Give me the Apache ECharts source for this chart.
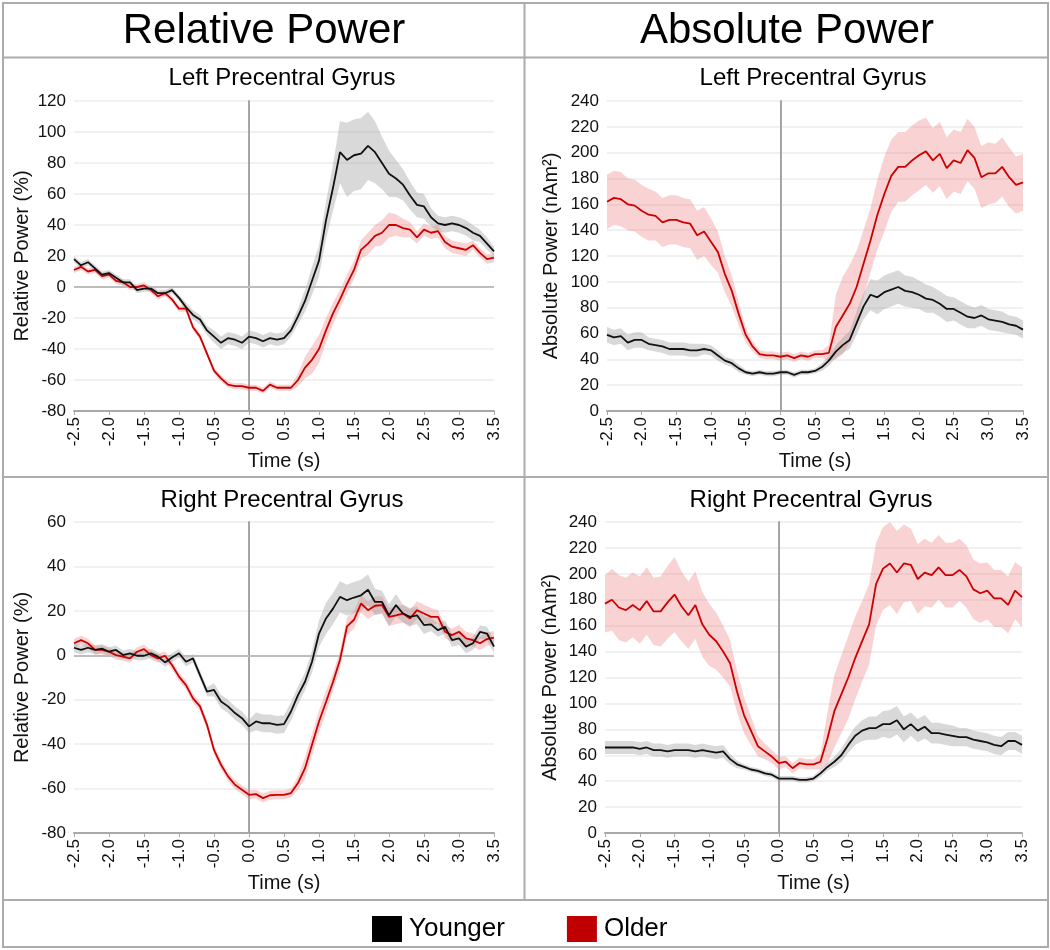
<!DOCTYPE html>
<html><head><meta charset="utf-8">
<script src="https://cdn.jsdelivr.net/npm/echarts@6/dist/echarts.min.js"></script>
<style>html,body{margin:0;padding:0;background:#fff}#c{width:1050px;height:950px}</style>
</head><body><div id="c"></div>
<script>
const time = [-2.5,-2.4,-2.3,-2.2,-2.1,-2.0,-1.9,-1.8,-1.7,-1.6,-1.5,-1.4,-1.3,-1.2,-1.1,-1.0,-0.9,-0.8,-0.7,-0.6,-0.5,-0.4,-0.3,-0.2,-0.1,0.0,0.1,0.2,0.3,0.4,0.5,0.6,0.7,0.8,0.9,1.0,1.1,1.2,1.3,1.4,1.5,1.6,1.7,1.8,1.9,2.0,2.1,2.2,2.3,2.4,2.5,2.6,2.7,2.8,2.9,3.0,3.1,3.2,3.3,3.4,3.5];

// Relative power, left precentral gyrus
const relYoungL = [18,14,16,12,8, 9,6,3,3,-2, -1,-1,-4,-4,-2, -7,-13,-18,-21,-28, -32,-36,-33,-34,-36, -32,-33,-35,-33,-34, -33,-28,-19,-9,4, 17,43,64,87,82, 85,86,91,87,80, 73,70,66,59,53, 52,45,41,40,41, 40,38,35,33,28, 23];
const relYoungLErr = [2,2,2,2,2, 2,2,2,2,2, 2,2,2,2,2, 2,3,3,3,3, 4,4,4,4,4, 4,4,4,4,4, 4,4,5,7,9, 10,12,15,20,24, 23,23,22,20,17, 15,12,10,9,8, 8,6,5,5,5, 5,5,5,4,4, 3];
const relOldL = [11,13,10,11,7, 8,4,3,0,0, 1,-2,-6,-4,-8, -14,-14,-26,-32,-43, -54,-59,-63,-64,-64, -65,-65,-67,-63,-65, -65,-65,-60,-52,-47, -40,-28,-17,-8,2, 11,24,28,33,35, 40,40,38,37,32, 37,35,36,29,26, 25,24,27,22,18, 19];
const relOldLErr = [2,2,2,2,2, 2,2,2,2,2, 2,2,2,2,2, 2,2,2,2,2, 2,2,2,2,2, 2,2,2,2,2, 2,2,4,7,9, 9,8,7,6,6, 6,6,7,7,8, 8,7,6,5,4, 4,4,4,4,4, 4,4,3,3,3, 3];

// Absolute power, left precentral gyrus
const absYoungL = [59,57,58,53,55, 55,52,51,50,48, 48,48,47,47,48, 47,43,39,37,33, 30,29,30,29,29, 30,30,28,30,30, 31,34,39,46,51, 55,68,81,90,88, 92,94,96,93,92, 90,87,86,83,79, 79,76,73,72,74, 71,70,69,67,66, 63];
const absYoungLErr = [6,6,6,6,6, 6,5,5,5,5, 5,5,5,5,4, 4,4,3,3,3, 2,2,2,2,2, 2,2,2,2,2, 2,3,4,5,6, 7,9,10,12,13, 13,13,13,12,12, 11,11,10,10,10, 9,9,9,8,8, 8,8,8,7,7, 7];
const absOldL = [162,165,164,160,159, 155,152,151,146,148, 148,146,145,136,139, 131,123,106,93,75, 59,50,44,43,43, 42,43,41,43,42, 44,44,45,65,74, 83,96,114,132,152, 168,182,189,189,194, 198,201,194,199,188, 194,192,202,196,181, 184,184,189,181,175, 177];
const absOldLErr = [21,21,21,20,20, 20,20,19,19,19, 19,19,19,19,19, 18,16,14,12,9, 6,4,3,3,3, 3,3,3,3,3, 3,3,6,25,30, 30,28,26,25,27, 29,28,27,27,27, 27,26,25,25,24, 24,24,24,24,24, 24,23,23,23,22, 22];

// Relative power, right precentral gyrus
const relYoungR = [3.4,2.4,3.4,2.4,3, 1.6,2.4,0.1,0.9,-0.2, -0.2,0.9,-0.6,-3.2,-1, 0.9,-2.9,-1.4,-8.9,-16.4, -15.6,-20.8,-23,-26,-28.3, -32,-29.8,-30.6,-30.6,-31.3, -31,-25.3,-17.9,-11.9,-2.9, 9.8,16.6,21,26.3,24.8, 26,27,29.5,24,24, 18,22.6,18.8,17.3,18, 13.6,13.9,11.3,12.8,6.8, 7.6,3.9,5.4,10.5,9.8, 3.9];
const relYoungRErr = [2,2,2,2,2, 2,2,2,2,2, 2,2,2,2,2, 2,2,2,2,2, 3,3,3,3,3, 3,4,4,4,4, 4,4,4,4,5, 6,7,7,7,7, 7,7,7,6,5, 5,5,4,4,4, 4,3,3,3,3, 3,3,3,3,3, 3];
const relOldR = [5.4,6.8,5.4,2.4,2.4, 1.6,0.1,-0.6,-1.4,1.6, 2.8,0.1,-1.4,-0.2,-4.4, -9.6,-13.4,-19.4,-23,-31.3, -42.6,-49.3,-54.5,-58.3,-60.5, -62.8,-62.5,-64.3,-63,-62.8, -62.8,-62,-57.5,-50.8,-40.3, -29.8,-21,-12,-2,13, 16,23.3,20.3,22.3,22.6, 17.3,18,18.8,16.6,20.3, 18.8,17.3,17.3,10.6,9.1, 10.6,7.6,6.8,5.4,7.3, 7.9];
const relOldRErr = [2,2,2,2,2, 2,2,2,2,2, 2,2,2,2,2, 2,2,2,2,2, 2,2,2,2,2, 2,2,2,2,2, 2,2,3,5,5, 5,5,4,4,4, 4,4,4,4,4, 4,4,4,4,4, 4,4,3,3,3, 3,3,3,3,3, 3];

// Absolute power, right precentral gyrus
const absYoungR = [66,66,66,66,66, 65,66,64,64,63, 64,64,64,63,64, 63,62,63,57,53, 51,49,48,46,45, 42,42,42,41,41, 42,46,51,55,60, 68,75,79,81,81, 84,84,87,80,84, 79,82,77,77,76, 75,74,74,72,71, 70,68,67,71,71, 68];
const absYoungRErr = [5,5,5,5,5, 5,5,5,5,5, 5,5,5,5,5, 5,5,5,4,3, 2,2,2,2,2, 2,2,2,2,2, 2,3,3,4,5, 6,7,8,9,9, 10,11,11,10,9, 9,9,8,8,8, 8,7,7,7,7, 7,7,7,7,7, 7];
const absOldR = [177,180,174,172,176, 172,179,171,171,178, 184,175,168,176,161, 153,148,140,131,109, 91,79,67,63,59, 54,55,50,54,53, 53,55,73,94,107, 120,135,148,161,192, 204,208,201,208,207, 196,201,199,205,199, 199,203,198,188,185, 187,181,181,176,187, 182];
const absOldRErr = [22,24,25,25,25, 26,26,26,27,28, 29,27,26,26,25, 24,22,20,18,16, 14,11,8,6,5, 5,4,4,4,4, 4,6,20,28,30, 32,32,31,31,32, 32,32,32,30,28, 27,26,25,25,25, 25,24,24,23,23, 22,22,22,22,22, 23];

const columnTitles = ['Relative Power', 'Absolute Power'];
const panelTitles = ['Left Precentral Gyrus', 'Left Precentral Gyrus', 'Right Precentral Gyrus', 'Right Precentral Gyrus'];
const groupNames = ['Younger', 'Older'];
const xTitle = 'Time (s)';

const FONT = '"Liberation Sans", Arial, sans-serif';
const BLACK = '#111111', RED = '#cc0000';

const panels = [
  {grid:{left:74, top:101, width:420, height:310}, yMin:-80, yMax:120, yName:'Relative Power (%)', nameGap:42, zero:true,
   young:relYoungL, youngErr:relYoungLErr, old:relOldL, oldErr:relOldLErr},
  {grid:{left:607, top:101, width:416, height:310}, yMin:0, yMax:240, yName:'Absolute Power (nAm²)', nameGap:46, zero:false,
   young:absYoungL, youngErr:absYoungLErr, old:absOldL, oldErr:absOldLErr},
  {grid:{left:74, top:522, width:420, height:311}, yMin:-80, yMax:60, yName:'Relative Power (%)', nameGap:42, zero:true,
   young:relYoungR, youngErr:relYoungRErr, old:relOldR, oldErr:relOldRErr},
  {grid:{left:605, top:522, width:417, height:311}, yMin:0, yMax:240, yName:'Absolute Power (nAm²)', nameGap:45, zero:false,
   young:absYoungR, youngErr:absYoungRErr, old:absOldR, oldErr:absOldRErr}
];

const pairs = (vals) => time.map((t, i) => [t, vals[i]]);

function bandSeries(k, mean, err, fill, z, markLine) {
  const s = {
    type:'custom', xAxisIndex:k, yAxisIndex:k, silent:true, z:z,
    data: time.map((t, i) => [t, mean[i] - err[i], mean[i] + err[i]]),
    encode:{x:0, y:[1, 2]},
    renderItem:(params, api) => {
      if (params.dataIndexInside !== 0) return null;
      const n = params.dataInsideLength;
      const top = [], bot = [];
      for (let j = 0; j < n; j++) {
        const t = api.value(0, j);
        top.push(api.coord([t, api.value(2, j)]));
        bot.push(api.coord([t, api.value(1, j)]));
      }
      return {type:'polygon', shape:{points: top.concat(bot.reverse())}, style:{fill:fill}};
    }
  };
  if (markLine) s.markLine = markLine;
  return s;
}

const grids = [], xAxes = [], yAxes = [], series = [];
panels.forEach((p, k) => {
  grids.push(p.grid);
  xAxes.push({
    type:'value', gridIndex:k, min:-2.5, max:3.5, interval:0.5,
    name:xTitle, nameLocation:'middle', nameGap:40,
    nameTextStyle:{fontFamily:FONT, fontSize:20, color:'#111'},
    axisLine:{show:true, onZero:false, lineStyle:{color:'#a8a8a8', width:2}},
    axisTick:{show:true, length:4, lineStyle:{color:'#a8a8a8'}},
    splitLine:{show:false},
    axisLabel:{rotate:90, margin:6, fontFamily:FONT, fontSize:17, color:'#111', formatter:v => v.toFixed(1)}
  });
  yAxes.push({
    type:'value', gridIndex:k, min:p.yMin, max:p.yMax, interval:20,
    name:p.yName, nameLocation:'middle', nameGap:p.nameGap,
    nameTextStyle:{fontFamily:FONT, fontSize:20, color:'#111'},
    axisLine:{show:true, lineStyle:{color:'#a8a8a8', width:2}},
    axisTick:{show:false},
    splitLine:{show:true, lineStyle:{color:'#ececec', width:1.5}},
    axisLabel:{margin:8, fontFamily:FONT, fontSize:17, color:'#111'}
  });
  const vLine = {silent:true, symbol:'none', label:{show:false},
                 lineStyle:{type:[1, 1], color:'#9a9a9a', width:1}, data:[{xAxis:0}]};
  const zLine = p.zero ? {silent:true, symbol:'none', label:{show:false},
                 lineStyle:{type:'solid', color:'#bdbdbd', width:2}, data:[{yAxis:0}]} : null;
  series.push(bandSeries(k, p.old, p.oldErr, 'rgba(236,120,120,0.33)', 1, vLine));
  series.push(bandSeries(k, p.young, p.youngErr, 'rgba(150,150,150,0.36)', 2, zLine));
  series.push({type:'line', name:groupNames[1], xAxisIndex:k, yAxisIndex:k, data:pairs(p.old), symbol:'none',
    color:RED, lineStyle:{color:RED, width:1.8}, z:5, emphasis:{disabled:true}});
  series.push({type:'line', name:groupNames[0], xAxisIndex:k, yAxisIndex:k, data:pairs(p.young), symbol:'none',
    color:BLACK, lineStyle:{color:BLACK, width:1.8}, z:6, emphasis:{disabled:true}});
});

const borderColor = '#acacac';
const graphic = [
  {type:'rect', shape:{x:3, y:3, width:1045, height:944}, style:{fill:null, stroke:borderColor, lineWidth:2}, silent:true},
  {type:'line', shape:{x1:3, y1:57.5, x2:1048, y2:57.5}, style:{stroke:borderColor, lineWidth:2}, silent:true},
  {type:'line', shape:{x1:3, y1:477, x2:1048, y2:477}, style:{stroke:borderColor, lineWidth:2}, silent:true},
  {type:'line', shape:{x1:3, y1:900, x2:1048, y2:900}, style:{stroke:borderColor, lineWidth:2}, silent:true},
  {type:'line', shape:{x1:524.5, y1:3, x2:524.5, y2:900}, style:{stroke:borderColor, lineWidth:2}, silent:true},
  {type:'text', x:264, y:31, style:{text:columnTitles[0], font:'42px ' + FONT, fill:'#000', align:'center', verticalAlign:'middle'}},
  {type:'text', x:787, y:31, style:{text:columnTitles[1], font:'42px ' + FONT, fill:'#000', align:'center', verticalAlign:'middle'}},
  {type:'text', x:282, y:78, style:{text:panelTitles[0], font:'24px ' + FONT, fill:'#000', align:'center', verticalAlign:'middle'}},
  {type:'text', x:813, y:78, style:{text:panelTitles[1], font:'24px ' + FONT, fill:'#000', align:'center', verticalAlign:'middle'}},
  {type:'text', x:282, y:500, style:{text:panelTitles[2], font:'24px ' + FONT, fill:'#000', align:'center', verticalAlign:'middle'}},
  {type:'text', x:811, y:500, style:{text:panelTitles[3], font:'24px ' + FONT, fill:'#000', align:'center', verticalAlign:'middle'}}
];

const chart = echarts.init(document.getElementById('c'), null, {renderer:'canvas'});
chart.setOption({
  animation:false,
  backgroundColor:'#fff',
  grid:grids, xAxis:xAxes, yAxis:yAxes, series:series,
  graphic:graphic,
  legend:{
    data:[{name:groupNames[0], itemStyle:{color:'#000'}}, {name:groupNames[1], itemStyle:{color:'#c00000'}}],
    left:367, top:911, icon:'rect', itemWidth:30, itemHeight:26, itemGap:62,
    textStyle:{fontFamily:FONT, fontSize:26, color:'#000', padding:[0,0,0,2]},
    selectedMode:false
  }
});
</script></body></html>
